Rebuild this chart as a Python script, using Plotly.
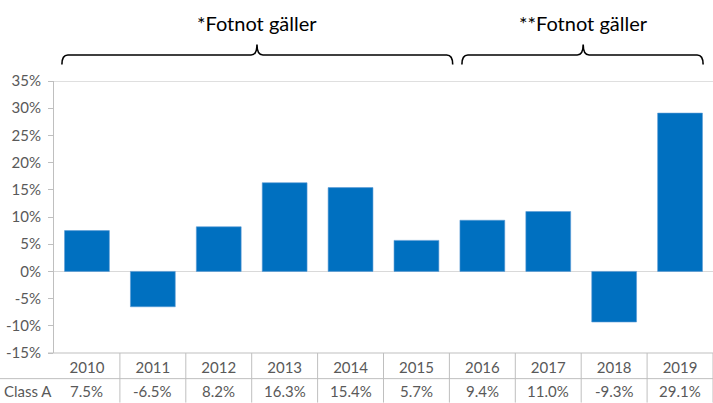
import plotly.graph_objects as go

years = ["2010", "2011", "2012", "2013", "2014", "2015", "2016", "2017", "2018", "2019"]
class_a = [7.5, -6.5, 8.2, 16.3, 15.4, 5.7, 9.4, 11.0, -9.3, 29.1]
series_name = "Class A"
y_ticks = [-15, -10, -5, 0, 5, 10, 15, 20, 25, 30, 35]
y_tick_text = ["-15%", "-10%", "-5%", "0%", "5%", "10%", "15%", "20%", "25%", "30%", "35%"]
brace_labels = ["*Fotnot gäller", "**Fotnot gäller"]
brace_spans = [(-0.38, 5.55, 2.58), (5.69, 9.35, 7.53)]

FONT = "Lato"
GRAY = "#595959"
LINE = "#bfbfbf"
idx = list(range(len(years)))

fig = go.Figure()
fig.add_trace(go.Bar(x=idx, y=class_a, marker=dict(color="#0070C0", line=dict(color="#5b9bd5", width=0.6)),
                     width=0.68, name=series_name, showlegend=False, hoverinfo="y"))

H = 403
top_px, bot_px = 80.6, 353.3
ph = bot_px - top_px


def py(px):
    return (bot_px - px) / ph


shapes = []
shapes.append(dict(type="line", xref="paper", yref="y", x0=0, x1=1, y0=35, y1=35, line=dict(color=LINE, width=1)))
shapes.append(dict(type="line", xref="paper", yref="paper", x0=-6 / 659, x1=1, y0=0, y1=0, line=dict(color=LINE, width=1)))
shapes.append(dict(type="line", xref="paper", yref="paper", x0=-54 / 659, x1=1, y0=py(379), y1=py(379), line=dict(color=LINE, width=1)))
for i in range(len(years)):
    shapes.append(dict(type="line", xref="x", yref="paper", x0=i + 0.5, x1=i + 0.5, y0=0, y1=py(403),
                       line=dict(color=LINE, width=1)))

yl, yt, ya = py(54.5), py(64), py(44)
for x0, x1, xa in brace_spans:
    r = 0.09
    path = (f"M {x0},{yt} Q {x0},{yl} {x0 + r},{yl} L {xa - r},{yl} "
            f"Q {xa},{yl} {xa},{ya} Q {xa},{yl} {xa + r},{yl} L {x1 - r},{yl} "
            f"Q {x1},{yl} {x1},{yt}")
    shapes.append(dict(type="path", xref="x", yref="paper", path=path, line=dict(color="black", width=1.6)))

annotations = []
for (x0, x1, xa), lab in zip(brace_spans, brace_labels):
    annotations.append(dict(x=xa, y=py(22), xref="x", yref="paper", text=lab, showarrow=False,
                            font=dict(family=FONT, size=20, color="black"), xanchor="center", yanchor="middle"))
annotations.append(dict(x=-54 / 659 + 0.003, y=py(391), xref="paper", yref="paper", text=series_name, showarrow=False,
                        font=dict(family=FONT, size=15, color=GRAY), xanchor="left", yanchor="middle"))
for i, v in enumerate(class_a):
    annotations.append(dict(x=i, y=py(391), xref="x", yref="paper", text=f"{v:.1f}%", showarrow=False,
                            font=dict(family=FONT, size=15, color=GRAY), xanchor="center", yanchor="middle"))

fig.update_layout(
    width=713, height=H,
    margin=dict(l=54, r=0, t=top_px, b=H - bot_px, pad=0),
    plot_bgcolor="white", paper_bgcolor="white",
    shapes=shapes, annotations=annotations,
    xaxis=dict(range=[-0.5, 9.5], tickvals=idx, ticktext=years, showgrid=False, zeroline=False,
               showline=False, ticks="", tickfont=dict(family=FONT, size=15, color=GRAY),
               ticklabelstandoff=4, fixedrange=True),
    yaxis=dict(range=[-15, 35], tickvals=y_ticks, ticktext=y_tick_text, showgrid=False,
               zeroline=True, zerolinecolor="#d9d9d9", zerolinewidth=1,
               showline=True, linecolor=LINE, linewidth=1, ticks="outside", ticklen=5, tickcolor=LINE,
               tickfont=dict(family=FONT, size=15, color=GRAY), ticklabelstandoff=4, fixedrange=True),
    font=dict(family=FONT),
)

fig.write_html("out.html", config={"displayModeBar": False})
